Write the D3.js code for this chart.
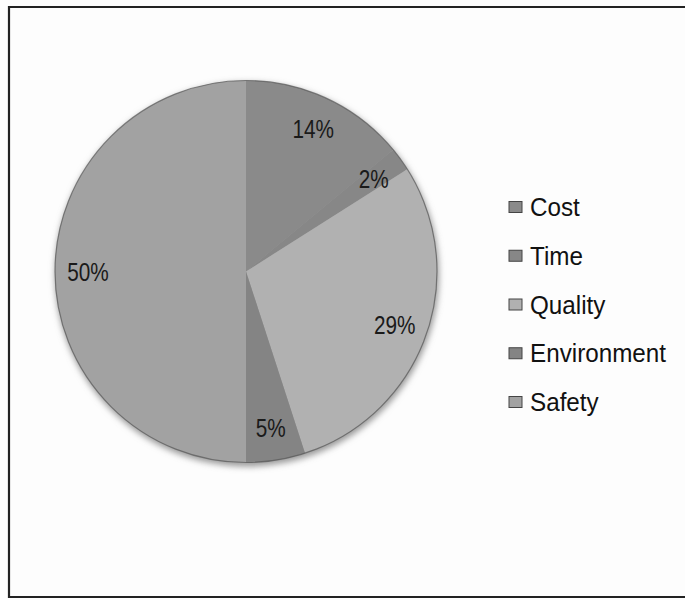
<!DOCTYPE html>
<html><head><meta charset="utf-8">
<script src="https://cdn.jsdelivr.net/npm/d3@7"></script>
<style>html,body{margin:0;padding:0;background:#fdfdfd;}svg{display:block;}</style>
</head><body>
<script>
const categories = ["Cost", "Time", "Quality", "Environment", "Safety"];
const values = [14, 2, 29, 5, 50];
const labels = ["14%", "2%", "29%", "5%", "50%"];
const colors = ["#8a8a8a", "#878787", "#b1b1b1", "#848484", "#a2a2a2"];

const W = 685, H = 600;
const cx = 246, cy = 271.5, R = 191;

const svg = d3.select("body").append("svg").attr("width", W).attr("height", H);
const defs = svg.append("defs");
const sh = defs.append("filter").attr("id", "shadow").attr("x", "-20%").attr("y", "-20%").attr("width", "140%").attr("height", "140%");
sh.append("feGaussianBlur").attr("stdDeviation", 3);

// frame
svg.append("path").attr("d", `M${W+2},7 L9,7 L9,597 L${W+2},597`).attr("fill", "none").attr("stroke", "#222").attr("stroke-width", 2.2);

const g = svg.append("g").attr("transform", `translate(${cx},${cy})`);
g.append("circle").attr("cx", 1).attr("cy", 3).attr("r", R + 1).attr("fill", "#9a9a9a").attr("filter", "url(#shadow)");

const pie = d3.pie().sort(null).value(d => d);
const arcs = pie(values);
const arc = d3.arc().innerRadius(0).outerRadius(R);
g.append("g").selectAll("path").data(arcs).join("path")
  .attr("d", arc).attr("fill", (d, i) => colors[i]);
g.append("circle").attr("r", R).attr("fill", "none").attr("stroke", "#555").attr("stroke-width", 1.2).attr("opacity", 0.7);

const labelArc = d3.arc().innerRadius(158).outerRadius(158);
g.selectAll("text.lbl").data(arcs).join("text").attr("class", "lbl")
  .attr("transform", d => { const [x, y] = labelArc.centroid(d); return `translate(${x},${y}) scale(0.83,1)`; })
  .attr("text-anchor", "middle").attr("dy", "0.36em")
  .attr("font-family", "Liberation Sans, Arial, sans-serif").attr("font-size", 25).attr("fill", "#1a1a1a")
  .text((d, i) => labels[i]);

const ly = d3.scalePoint().domain(categories).range([207, 402]);
const leg = svg.append("g");
leg.selectAll("rect").data(categories).join("rect")
  .attr("x", 509).attr("y", d => ly(d) - 5.5).attr("width", 13).attr("height", 11)
  .attr("fill", (d, i) => colors[i]).attr("stroke", "#444").attr("stroke-width", 1);
leg.selectAll("text").data(categories).join("text")
  .attr("transform", d => `translate(530,${ly(d)}) scale(0.97,1)`).attr("dy", "0.36em")
  .attr("font-family", "Liberation Sans, Arial, sans-serif").attr("font-size", 25).attr("fill", "#111")
  .text(d => d);
</script>
</body></html>
